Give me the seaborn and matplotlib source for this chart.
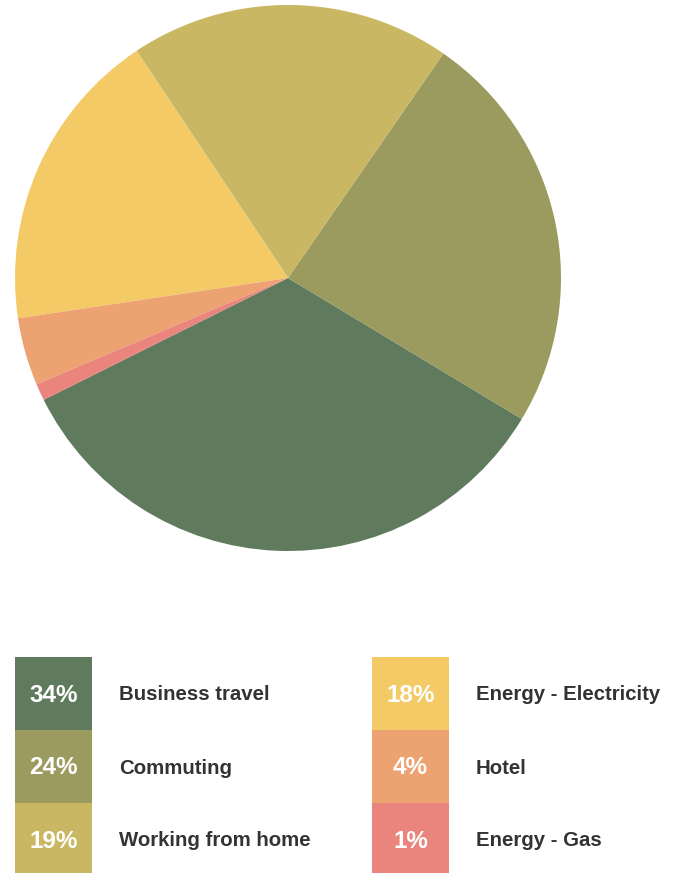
import matplotlib
matplotlib.use("Agg")
import matplotlib.pyplot as plt
import seaborn as sns
from matplotlib.patches import Rectangle

categories = ["Business travel", "Commuting", "Working from home",
              "Energy - Electricity", "Hotel", "Energy - Gas"]
values = [34, 24, 19, 18, 4, 1]
pct_labels = ["34%", "24%", "19%", "18%", "4%", "1%"]
colors = ["#5f7a5c", "#9b9a5f", "#c9b763", "#f4ca66", "#eca271", "#e9857c"]

sns.set_theme(style="white")
plt.rcParams['font.family'] = ['Liberation Sans', 'DejaVu Sans']

W, H = 686, 873
fig = plt.figure(figsize=(W / 100, H / 100), dpi=100)

cx, cy, r = 288, 278, 273
ax = fig.add_axes([(cx - r) / W, 1 - (cy + r) / H, 2 * r / W, 2 * r / H])
ax.pie(values, colors=colors, startangle=206.5, counterclock=True,
       wedgeprops=dict(linewidth=0))
ax.set_xlim(-1, 1)
ax.set_ylim(-1, 1)
ax.set_aspect("equal")
ax.axis("off")

# legend
col_x = [15, 372]
sq_w = 77
row_top = 657
row_h = 73
for i, (cat, pct, col) in enumerate(zip(categories, pct_labels, colors)):
    c = i // 3
    rrow = i % 3
    x0 = col_x[c]
    y0 = row_top + rrow * row_h
    fig.patches.append(Rectangle((x0 / W, 1 - (y0 + row_h) / H), sq_w / W, row_h / H,
                                 transform=fig.transFigure, facecolor=col,
                                 edgecolor="none", figure=fig))
    ymid = 1 - (y0 + row_h / 2 + 1.5) / H
    fig.text((x0 + sq_w / 2) / W, ymid, pct, color="white", fontsize=17.5,
             fontweight="bold", ha="center", va="center")
    fig.text((x0 + sq_w + 27) / W, ymid, cat, color="#333333", fontsize=14.7,
             fontweight="bold", ha="left", va="center")

fig.savefig("out.png", dpi=100, facecolor="white")
